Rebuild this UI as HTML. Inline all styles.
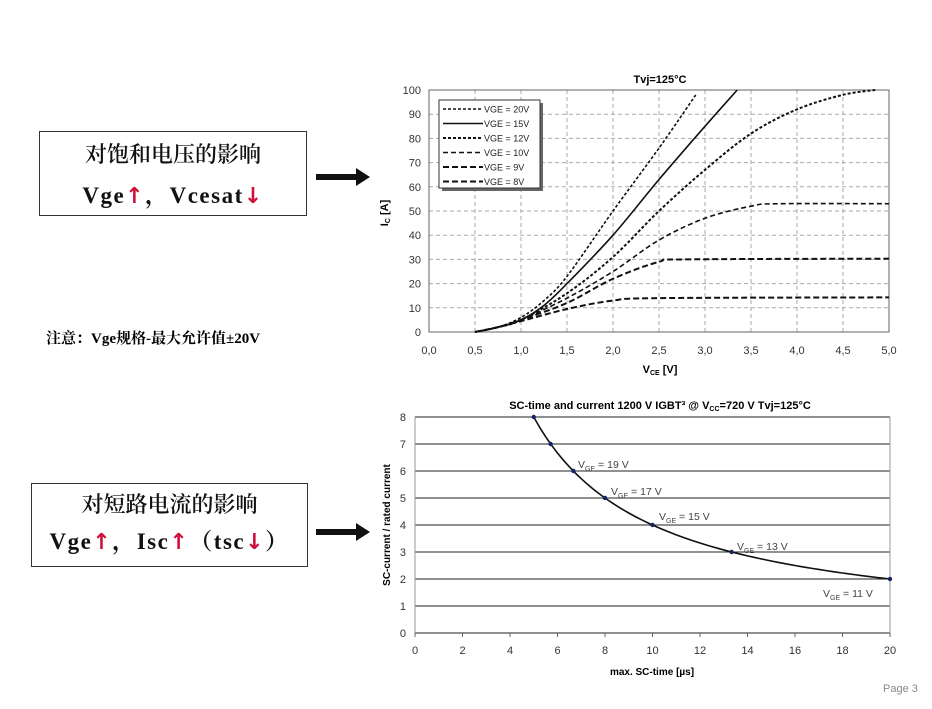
<!DOCTYPE html>
<html><head><meta charset="utf-8"><style>
body{margin:0;width:932px;height:709px;background:#fff;position:relative;overflow:hidden;font-family:"Liberation Sans",sans-serif}
.box{position:absolute;border:1.5px solid #333;text-align:center;color:#111}
.l1{font-size:22px;line-height:26px;font-family:"Noto Serif CJK SC",serif;font-weight:600}
.l2{font-size:23px;line-height:26px;font-family:"Liberation Serif","Noto Serif CJK SC",serif;font-weight:bold;letter-spacing:1.5px}
.r{color:#d0103a;font-weight:900;font-family:"DejaVu Sans",sans-serif;font-size:22px}
.arr{position:absolute;height:6px;background:#111}
.arr:after{content:"";position:absolute;right:-12px;top:-6px;border-left:14px solid #111;border-top:9px solid transparent;border-bottom:9px solid transparent}
</style></head><body>
<div class="box" style="left:39px;top:131px;width:266px;height:83px">
<div class="l1" style="margin-top:9px">对饱和电压的影响</div>
<div class="l2" style="margin-top:16px">Vge<span class="r">↑</span>，Vcesat<span class="r">↓</span></div>
</div>
<div class="box" style="left:31px;top:483px;width:275px;height:82px">
<div class="l1" style="margin-top:7px">对短路电流的影响</div>
<div class="l2" style="margin-top:12px">Vge<span class="r">↑</span>，Isc<span class="r">↑</span>（tsc<span class="r">↓</span>）</div>
</div>
<div class="arr" style="left:316px;top:174px;width:42px"></div>
<div class="arr" style="left:316px;top:529px;width:42px"></div>
<div style="position:absolute;left:46px;top:327px;font-size:15px;font-weight:bold;font-family:'Liberation Serif','Noto Serif CJK SC',serif">注意：Vge规格-最大允许值±20V</div>
<div style="position:absolute;left:883px;top:683px;font-size:11px;color:#888">Page 3</div>
<svg id="s" width="932" height="709" style="position:absolute;left:0;top:0" font-family="Liberation Sans, sans-serif"></svg>
<script>
var s='';
function X(v){return 429+92*v} function Y(i){return 332-2.42*i}
s+='<text x="660" y="83" font-size="11" font-weight="bold" text-anchor="middle">Tvj=125°C</text>';
for(var k=0;k<=10;k++){var x=X(k/2),y=Y(k*10);
s+='<line x1="'+x+'" y1="90" x2="'+x+'" y2="332" stroke="#aaa" stroke-dasharray="4,3"/>';
s+='<line x1="429" y1="'+y+'" x2="889" y2="'+y+'" stroke="#aaa" stroke-dasharray="4,3"/>';
s+='<text x="'+x+'" y="354" font-size="11" fill="#333" text-anchor="middle">'+(k/2).toFixed(1).replace('.',',')+'</text>';
s+='<text x="421" y="'+(y+4)+'" font-size="11" fill="#333" text-anchor="end">'+(k*10)+'</text>';}
s+='<rect x="429" y="90" width="460" height="242" fill="none" stroke="#666"/>';
s+='<text x="660" y="373" font-size="11" font-weight="bold" text-anchor="middle">V<tspan font-size="7" dy="2">CE</tspan><tspan dy="-2"> [V]</tspan></text>';
s+='<text transform="translate(388,213) rotate(-90)" font-size="11" font-weight="bold" text-anchor="middle">I<tspan font-size="7" dy="2">C</tspan><tspan dy="-2"> [A]</tspan></text>';
var C=[[[0.5,0],[0.75,2],[1,6],[1.25,13],[1.5,23],[2,50],[2.5,76],[2.9,98]],
[[0.5,0],[0.75,2],[1,5],[1.25,11],[1.5,20],[2,40],[2.5,63],[3,85],[3.35,100]],
[[0.5,0],[0.75,2],[1,5],[1.5,16],[2,31],[2.5,50],[3,67],[3.5,82],[4,92],[4.5,98],[4.85,100]],
[[0.5,0],[0.75,2],[1,5],[1.5,14],[2,25],[2.5,38],[3,47],[3.5,52],[3.8,53],[5,53]],
[[0.5,0],[0.75,2],[1,5],[1.5,12],[2,22],[2.5,29],[2.8,30],[5,30.3]],
[[0.5,0],[0.75,2],[1,4.5],[1.5,9.5],[2,13],[2.5,14],[5,14.3]]];
var D=['3,2','','3,2','5,3','6,3','6,3'],W=[1.6,1.6,2,1.6,2,2];
function cat(p,fx,fy){var d='M'+fx(p[0][0])+','+fy(p[0][1]);for(var i=0;i<p.length-1;i++){var p0=p[Math.max(i-1,0)],p1=p[i],p2=p[i+1],p3=p[Math.min(i+2,p.length-1)];
d+=' C'+fx(p1[0]+(p2[0]-p0[0])/6)+','+fy(p1[1]+(p2[1]-p0[1])/6)+' '+fx(p2[0]-(p3[0]-p1[0])/6)+','+fy(p2[1]-(p3[1]-p1[1])/6)+' '+fx(p2[0])+','+fy(p2[1]);}return d}
C.forEach(function(p,j){s+='<path d="'+cat(p,X,Y)+'" fill="none" stroke="#111" stroke-width="'+W[j]+'"'+(D[j]?' stroke-dasharray="'+D[j]+'"':'')+'/>'});
s+='<rect x="442" y="103" width="101" height="88" fill="#666"/><rect x="439" y="100" width="101" height="88" fill="#fff" stroke="#333"/>';
var L=['VGE = 20V','VGE = 15V','VGE = 12V','VGE = 10V','VGE = 9V','VGE = 8V'];
L.forEach(function(t,j){var y=109+j*14.5;s+='<line x1="443" y1="'+y+'" x2="483" y2="'+y+'" stroke="#111" stroke-width="'+W[j]+'"'+(D[j]?' stroke-dasharray="'+D[j]+'"':'')+'/><text x="484" y="'+(y+3.5)+'" font-size="9" fill="#222">'+t+'</text>'});
function X2(v){return 415+23.75*v} function Y2(i){return 633-27*i}
s+='<text x="660" y="409" font-size="11" font-weight="bold" text-anchor="middle">SC-time and current 1200 V IGBT³ @ V<tspan font-size="7" dy="2">CC</tspan><tspan dy="-2">=720 V  Tvj=125°C</tspan></text>';
for(var k=0;k<=8;k++){var y=Y2(k);s+='<line x1="415" y1="'+y+'" x2="890" y2="'+y+'" stroke="#222" stroke-width="1"/><text x="406" y="'+(y+4)+'" font-size="11" fill="#333" text-anchor="end">'+k+'</text>';}
s+='<line x1="890" y1="417" x2="890" y2="633" stroke="#999"/><line x1="415" y1="417" x2="415" y2="637" stroke="#999"/>';
for(var k=0;k<=20;k+=2){var x=X2(k);s+='<line x1="'+x+'" y1="633" x2="'+x+'" y2="637" stroke="#666"/><text x="'+x+'" y="654" font-size="11" fill="#333" text-anchor="middle">'+k+'</text>';}
s+='<text x="652" y="675" font-size="10" font-weight="bold" text-anchor="middle">max. SC-time [µs]</text>';
s+='<text transform="translate(390,525) rotate(-90)" font-size="10" font-weight="bold" text-anchor="middle">SC-current / rated current</text>';
var P=[[5,8],[5.71,7],[6.67,6],[8,5],[10,4],[13.33,3],[20,2]],Q=[];
for(var t=5;t<=20.01;t+=0.25)Q.push([t,40/t]);
s+='<path d="'+cat(Q,X2,Y2)+'" fill="none" stroke="#111" stroke-width="1.6"/>';
P.forEach(function(p){s+='<circle cx="'+X2(p[0])+'" cy="'+Y2(p[1])+'" r="2.2" fill="#112266"/>'});
[[578,468,19],[611,495,17],[659,520,15],[737,550,13],[823,597,11]].forEach(function(a){s+='<text x="'+a[0]+'" y="'+a[1]+'" font-size="10.5" fill="#444">V<tspan font-size="7" dy="3">GE</tspan><tspan dy="-3"> = '+a[2]+' V</tspan></text>'});
document.getElementById('s').innerHTML=s;
</script>
</body></html>
